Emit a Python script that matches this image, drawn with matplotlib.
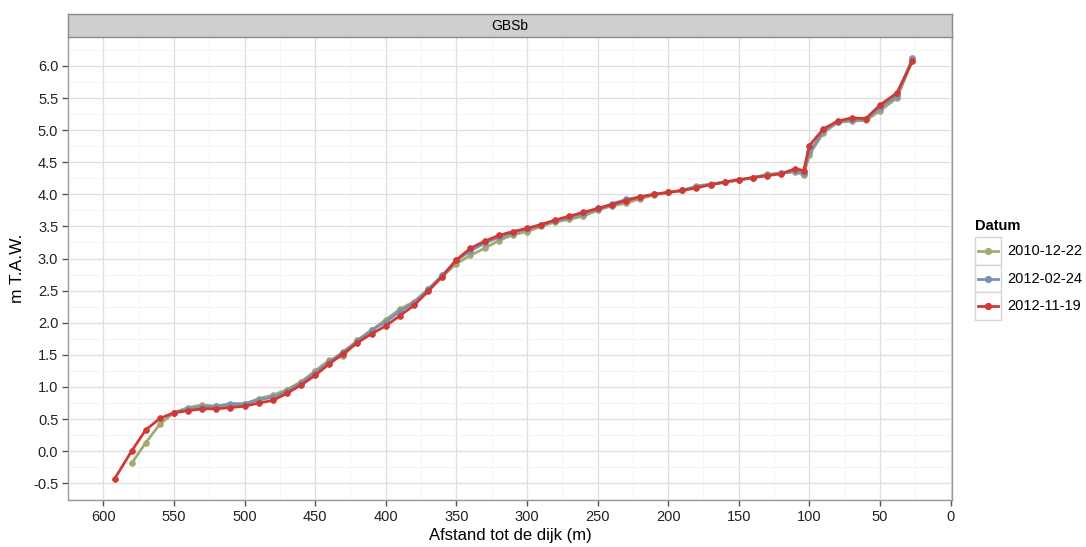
import matplotlib
matplotlib.use("Agg")
import matplotlib.pyplot as plt
from matplotlib.lines import Line2D
from matplotlib.patches import Rectangle

plt.rcParams["font.family"] = ["Liberation Sans", "DejaVu Sans"]

# distance to the dike (m) per survey
afstand_2010 = [580, 570, 560, 550, 540, 530, 520, 510, 500, 490, 480, 470, 460, 450,
                440, 430, 420, 410, 400, 390, 380, 370, 360, 350, 340, 330, 320, 310,
                300, 290, 280, 270, 260, 250, 240, 230, 220, 210, 200, 190, 180, 170,
                160, 150, 140, 130, 120, 110, 104, 100, 90, 80, 70, 60, 50, 38, 27]
hoogte_2010 = [-0.19, 0.13, 0.42, 0.60, 0.68, 0.72, 0.70, 0.71, 0.73, 0.82, 0.87, 0.96,
               1.08, 1.25, 1.42, 1.48, 1.73, 1.88, 2.05, 2.21, 2.33, 2.52, 2.72, 2.92,
               3.05, 3.16, 3.28, 3.37, 3.42, 3.50, 3.57, 3.61, 3.66, 3.75, 3.82, 3.86,
               3.93, 3.99, 4.03, 4.06, 4.13, 4.16, 4.19, 4.22, 4.26, 4.31, 4.33, 4.35,
               4.30, 4.62, 4.96, 5.12, 5.14, 5.15, 5.30, 5.50, 6.08]

afstand_2012a = [550, 540, 530, 520, 510, 500, 490, 480, 470, 460, 450, 440, 430, 420,
                 410, 400, 390, 380, 370, 360, 350, 340, 330, 320, 310, 300, 290, 280,
                 270, 260, 250, 240, 230, 220, 210, 200, 190, 180, 170, 160, 150, 140,
                 130, 120, 110, 104, 100, 90, 80, 70, 60, 50, 38, 27]
hoogte_2012a = [0.60, 0.65, 0.69, 0.70, 0.74, 0.74, 0.80, 0.84, 0.93, 1.06, 1.22, 1.39,
                1.55, 1.72, 1.89, 2.01, 2.18, 2.31, 2.52, 2.74, 2.97, 3.12, 3.24, 3.33,
                3.40, 3.46, 3.52, 3.59, 3.64, 3.70, 3.77, 3.85, 3.92, 3.96, 4.00, 4.03,
                4.06, 4.12, 4.15, 4.19, 4.22, 4.26, 4.30, 4.33, 4.36, 4.33, 4.66, 4.98,
                5.13, 5.16, 5.17, 5.35, 5.53, 6.12]

afstand_2012b = [592, 580, 570, 560, 550, 540, 530, 520, 510, 500, 490, 480, 470, 460,
                 450, 440, 430, 420, 410, 400, 390, 380, 370, 360, 350, 340, 330, 320,
                 310, 300, 290, 280, 270, 260, 250, 240, 230, 220, 210, 200, 190, 180,
                 170, 160, 150, 140, 130, 120, 110, 104, 100, 90, 80, 70, 60, 50, 38, 27]
hoogte_2012b = [-0.43, 0.00, 0.33, 0.51, 0.60, 0.63, 0.66, 0.66, 0.68, 0.70, 0.75, 0.79,
                0.90, 1.03, 1.18, 1.36, 1.52, 1.69, 1.83, 1.95, 2.11, 2.27, 2.49, 2.72,
                2.98, 3.16, 3.27, 3.36, 3.42, 3.47, 3.53, 3.60, 3.66, 3.72, 3.78, 3.84,
                3.90, 3.96, 4.00, 4.03, 4.06, 4.10, 4.15, 4.19, 4.23, 4.26, 4.29, 4.32,
                4.40, 4.37, 4.76, 5.02, 5.14, 5.19, 5.18, 5.39, 5.58, 6.08]

datums = ["2010-12-22", "2012-02-24", "2012-11-19"]
kleuren = ["#a6a872", "#7a93b0", "#cf3a36"]
reeksen = [(afstand_2010, hoogte_2010), (afstand_2012a, hoogte_2012a),
           (afstand_2012b, hoogte_2012b)]

x_ticks = list(range(0, 601, 50))
y_ticks = [-0.5, 0.0, 0.5, 1.0, 1.5, 2.0, 2.5, 3.0, 3.5, 4.0, 4.5, 5.0, 5.5, 6.0]

W, H = 1086, 547
fig = plt.figure(figsize=(W / 100, H / 100), dpi=100)
ax = fig.add_axes([68 / W, 1 - 500 / H, (952 - 68) / W, (500 - 37) / H])

for (x, y), kleur, datum in zip(reeksen, kleuren, datums):
    ax.plot(x, y, color=kleur, lw=2.0, marker="o", ms=4.2, mec=kleur, mew=0.5,
            label=datum, zorder=3)

ax.set_xlim(620, -1)
ax.set_ylim(-0.76, 6.45)
ax.set_xticks(x_ticks)
ax.set_xticklabels([str(v) for v in x_ticks])
ax.set_yticks(y_ticks)
ax.set_yticklabels([f"{v:.1f}" for v in y_ticks])
ax.set_xticks([v + 25 for v in x_ticks[:-1]] + [625], minor=True)
ax.set_yticks([v + 0.25 for v in y_ticks] + [-0.75], minor=True)
ax.grid(which="major", color="#dedede", lw=0.9)
ax.grid(which="minor", color="#f3f3f3", lw=0.6)
ax.set_axisbelow(True)
ax.tick_params(which="major", direction="out", length=4, width=1, color="#555555",
               labelsize=10.5, labelcolor="#222222", pad=3)
ax.tick_params(which="minor", length=0)
for side in ["left", "bottom", "right"]:
    ax.spines[side].set_color("#9a9a9a")
    ax.spines[side].set_linewidth(1.0)
ax.spines["top"].set_visible(False)

ax.set_xlabel("Afstand tot de dijk (m)", fontsize=12, labelpad=3)
ax.set_ylabel("m T.A.W.", fontsize=12.5, labelpad=6)

# facet strip
strip = fig.add_axes([68 / W, 1 - 37 / H, (952 - 68) / W, 23 / H])
strip.set_xticks([])
strip.set_yticks([])
strip.set_facecolor("#cfcfcf")
for s in strip.spines.values():
    s.set_color("#8a8a8a")
    s.set_linewidth(1.0)
strip.text(0.5, 0.5, "GBSb", ha="center", va="center", fontsize=10,
           transform=strip.transAxes)

# legend
fig.text(975 / W, 1 - 226 / H, "Datum", fontsize=10.5, fontweight="bold",
         ha="left", va="center")
key_top, key_h = 237, 27.7
for i, (kleur, datum) in enumerate(zip(kleuren, datums)):
    y0 = key_top + i * key_h
    fig.add_artist(Rectangle((975 / W, 1 - (y0 + key_h) / H), 26 / W, key_h / H,
                             transform=fig.transFigure, facecolor="white",
                             edgecolor="#d5d5d5", lw=1.0))
    yc = 1 - (y0 + key_h / 2) / H
    fig.add_artist(Line2D([978 / W, 998 / W], [yc, yc], transform=fig.transFigure,
                          color=kleur, lw=2.0))
    fig.add_artist(Line2D([988 / W], [yc], transform=fig.transFigure, color=kleur,
                          marker="o", ms=4.2))
    fig.text(1007 / W, yc, datum, fontsize=10.5, ha="left", va="center")

fig.savefig("out.png", dpi=100, facecolor="white")
